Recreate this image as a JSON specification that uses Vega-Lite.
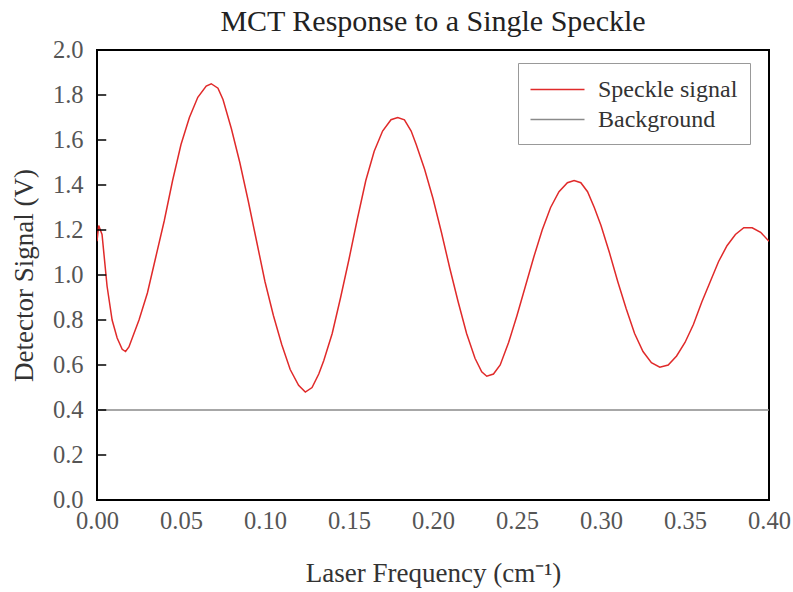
{
  "$schema": "https://vega.github.io/schema/vega-lite/v6.json",
  "autosize": "none",
  "width": 672,
  "height": 450,
  "padding": {"left": 97, "top": 50, "right": 24, "bottom": 92},
  "background": "white",
  "config": {
    "font": "Liberation Serif",
    "view": {"stroke": "black", "strokeWidth": 2},
    "axis": {"grid": false, "labelFont": "Liberation Serif", "titleFont": "Liberation Serif", "labelColor": "#555", "titleColor": "#333", "titleFontWeight": "normal", "domain": false}
  },
  "title": {"text": "MCT Response to a Single Speckle", "fontSize": 30, "font": "Liberation Serif", "fontWeight": "normal", "color": "#222", "offset": 0},
  "layer": [
    {
      "data": {"values": [
        {"f": 0.000, "v": 1.15, "s": "Speckle signal"},
        {"f": 0.001, "v": 1.22, "s": "Speckle signal"},
        {"f": 0.003, "v": 1.18, "s": "Speckle signal"},
        {"f": 0.006, "v": 0.95, "s": "Speckle signal"},
        {"f": 0.009, "v": 0.80, "s": "Speckle signal"},
        {"f": 0.012, "v": 0.72, "s": "Speckle signal"},
        {"f": 0.015, "v": 0.67, "s": "Speckle signal"},
        {"f": 0.017, "v": 0.66, "s": "Speckle signal"},
        {"f": 0.019, "v": 0.68, "s": "Speckle signal"},
        {"f": 0.025, "v": 0.80, "s": "Speckle signal"},
        {"f": 0.030, "v": 0.92, "s": "Speckle signal"},
        {"f": 0.035, "v": 1.08, "s": "Speckle signal"},
        {"f": 0.040, "v": 1.24, "s": "Speckle signal"},
        {"f": 0.045, "v": 1.42, "s": "Speckle signal"},
        {"f": 0.050, "v": 1.58, "s": "Speckle signal"},
        {"f": 0.055, "v": 1.70, "s": "Speckle signal"},
        {"f": 0.060, "v": 1.79, "s": "Speckle signal"},
        {"f": 0.065, "v": 1.84, "s": "Speckle signal"},
        {"f": 0.068, "v": 1.85, "s": "Speckle signal"},
        {"f": 0.072, "v": 1.83, "s": "Speckle signal"},
        {"f": 0.075, "v": 1.78, "s": "Speckle signal"},
        {"f": 0.080, "v": 1.65, "s": "Speckle signal"},
        {"f": 0.085, "v": 1.50, "s": "Speckle signal"},
        {"f": 0.090, "v": 1.33, "s": "Speckle signal"},
        {"f": 0.095, "v": 1.15, "s": "Speckle signal"},
        {"f": 0.100, "v": 0.97, "s": "Speckle signal"},
        {"f": 0.105, "v": 0.82, "s": "Speckle signal"},
        {"f": 0.110, "v": 0.69, "s": "Speckle signal"},
        {"f": 0.115, "v": 0.58, "s": "Speckle signal"},
        {"f": 0.120, "v": 0.51, "s": "Speckle signal"},
        {"f": 0.124, "v": 0.48, "s": "Speckle signal"},
        {"f": 0.128, "v": 0.50, "s": "Speckle signal"},
        {"f": 0.132, "v": 0.56, "s": "Speckle signal"},
        {"f": 0.135, "v": 0.62, "s": "Speckle signal"},
        {"f": 0.140, "v": 0.74, "s": "Speckle signal"},
        {"f": 0.145, "v": 0.90, "s": "Speckle signal"},
        {"f": 0.150, "v": 1.07, "s": "Speckle signal"},
        {"f": 0.155, "v": 1.25, "s": "Speckle signal"},
        {"f": 0.160, "v": 1.42, "s": "Speckle signal"},
        {"f": 0.165, "v": 1.55, "s": "Speckle signal"},
        {"f": 0.170, "v": 1.64, "s": "Speckle signal"},
        {"f": 0.175, "v": 1.69, "s": "Speckle signal"},
        {"f": 0.179, "v": 1.70, "s": "Speckle signal"},
        {"f": 0.183, "v": 1.69, "s": "Speckle signal"},
        {"f": 0.187, "v": 1.64, "s": "Speckle signal"},
        {"f": 0.190, "v": 1.58, "s": "Speckle signal"},
        {"f": 0.195, "v": 1.47, "s": "Speckle signal"},
        {"f": 0.200, "v": 1.34, "s": "Speckle signal"},
        {"f": 0.205, "v": 1.19, "s": "Speckle signal"},
        {"f": 0.210, "v": 1.03, "s": "Speckle signal"},
        {"f": 0.215, "v": 0.88, "s": "Speckle signal"},
        {"f": 0.220, "v": 0.74, "s": "Speckle signal"},
        {"f": 0.225, "v": 0.63, "s": "Speckle signal"},
        {"f": 0.229, "v": 0.57, "s": "Speckle signal"},
        {"f": 0.232, "v": 0.55, "s": "Speckle signal"},
        {"f": 0.236, "v": 0.56, "s": "Speckle signal"},
        {"f": 0.240, "v": 0.60, "s": "Speckle signal"},
        {"f": 0.245, "v": 0.70, "s": "Speckle signal"},
        {"f": 0.250, "v": 0.82, "s": "Speckle signal"},
        {"f": 0.255, "v": 0.95, "s": "Speckle signal"},
        {"f": 0.260, "v": 1.08, "s": "Speckle signal"},
        {"f": 0.265, "v": 1.20, "s": "Speckle signal"},
        {"f": 0.270, "v": 1.30, "s": "Speckle signal"},
        {"f": 0.275, "v": 1.37, "s": "Speckle signal"},
        {"f": 0.280, "v": 1.41, "s": "Speckle signal"},
        {"f": 0.284, "v": 1.42, "s": "Speckle signal"},
        {"f": 0.288, "v": 1.41, "s": "Speckle signal"},
        {"f": 0.292, "v": 1.37, "s": "Speckle signal"},
        {"f": 0.296, "v": 1.30, "s": "Speckle signal"},
        {"f": 0.300, "v": 1.22, "s": "Speckle signal"},
        {"f": 0.305, "v": 1.10, "s": "Speckle signal"},
        {"f": 0.310, "v": 0.97, "s": "Speckle signal"},
        {"f": 0.315, "v": 0.85, "s": "Speckle signal"},
        {"f": 0.320, "v": 0.74, "s": "Speckle signal"},
        {"f": 0.325, "v": 0.66, "s": "Speckle signal"},
        {"f": 0.330, "v": 0.61, "s": "Speckle signal"},
        {"f": 0.335, "v": 0.59, "s": "Speckle signal"},
        {"f": 0.340, "v": 0.60, "s": "Speckle signal"},
        {"f": 0.345, "v": 0.64, "s": "Speckle signal"},
        {"f": 0.350, "v": 0.70, "s": "Speckle signal"},
        {"f": 0.355, "v": 0.78, "s": "Speckle signal"},
        {"f": 0.360, "v": 0.88, "s": "Speckle signal"},
        {"f": 0.365, "v": 0.97, "s": "Speckle signal"},
        {"f": 0.370, "v": 1.06, "s": "Speckle signal"},
        {"f": 0.375, "v": 1.13, "s": "Speckle signal"},
        {"f": 0.380, "v": 1.18, "s": "Speckle signal"},
        {"f": 0.385, "v": 1.21, "s": "Speckle signal"},
        {"f": 0.390, "v": 1.21, "s": "Speckle signal"},
        {"f": 0.395, "v": 1.19, "s": "Speckle signal"},
        {"f": 0.400, "v": 1.15, "s": "Speckle signal"},
        {"f": 0.000, "v": 0.40, "s": "Background"},
        {"f": 0.400, "v": 0.40, "s": "Background"}
      ]},
      "mark": {"type": "line", "strokeWidth": 1.5, "clip": true},
      "encoding": {
        "x": {"field": "f", "type": "quantitative", "scale": {"domain": [0, 0.4], "nice": false, "zero": false},
          "axis": {"values": [0, 0.05, 0.1, 0.15, 0.2, 0.25, 0.3, 0.35, 0.4], "format": ".2f", "ticks": false, "labelFlush": false, "labelPadding": 9, "labelFontSize": 24.5, "title": "Laser Frequency (cm⁻¹)", "titleFontSize": 27, "titlePadding": 28}},
        "y": {"field": "v", "type": "quantitative", "scale": {"domain": [0, 2], "nice": false},
          "axis": {"values": [0, 0.2, 0.4, 0.6, 0.8, 1.0, 1.2, 1.4, 1.6, 1.8, 2.0], "format": ".1f", "ticks": false, "labelPadding": 14, "labelFontSize": 24.5, "labelFlush": false, "title": "Detector Signal (V)", "titleFontSize": 27, "titlePadding": 14}},
        "color": {"field": "s", "type": "nominal", "sort": ["Speckle signal", "Background"],
          "scale": {"domain": ["Speckle signal", "Background"], "range": ["#e02a2a", "#8a8a8a"]},
          "legend": {"title": null, "orient": "none", "legendX": 421, "legendY": 13, "symbolType": "M-2,0H2", "symbolSize": 729, "symbolStrokeWidth": 1.5, "symbolOffset": 13, "labelOffset": 26, "labelFontSize": 24, "labelFont": "Liberation Serif", "labelColor": "#333", "strokeColor": "#999", "padding": 12, "rowPadding": 3}}
      }
    },
    {
      "data": {"values": [{"t": 0.2}, {"t": 0.4}, {"t": 0.6}, {"t": 0.8}, {"t": 1.0}, {"t": 1.2}, {"t": 1.4}, {"t": 1.6}, {"t": 1.8}]},
      "mark": {"type": "rule", "color": "black", "strokeWidth": 1.5},
      "encoding": {
        "y": {"field": "t", "type": "quantitative"},
        "x": {"datum": 0},
        "x2": {"datum": 0.0055}
      }
    }
  ]
}
